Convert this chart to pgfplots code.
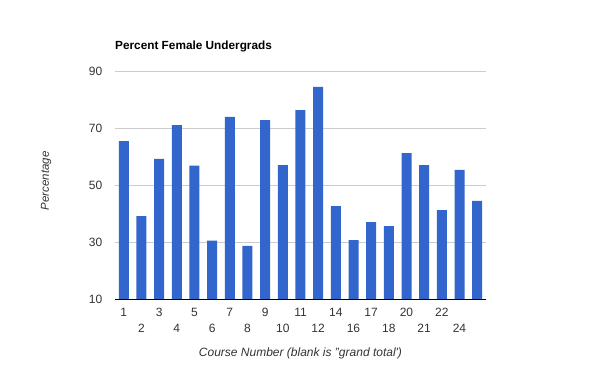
\documentclass[border=0pt]{standalone}
\usepackage{pgfplots}
\pgfplotsset{compat=1.18}
\usepackage{pgfplotstable}
\usepackage{fontspec}
\setmainfont{Liberation Sans}
\definecolor{barblue}{HTML}{3366CC}
\definecolor{gridgray}{HTML}{CCCCCC}
\definecolor{ticktext}{HTML}{333333}
\pgfplotstableread{
idx val
0 65.4
1 39.1
2 59.2
3 71.0
4 56.8
5 30.5
6 73.9
7 28.6
8 72.8
9 57.0
10 76.3
11 84.4
12 42.6
13 30.7
14 37.0
15 35.6
16 61.2
17 57.0
18 41.2
19 55.3
20 44.4
}\datatable
\begin{document}
\begin{tikzpicture}
\path[use as bounding box] (-115pt,-72pt) rectangle (485pt,299pt);
\begin{axis}[
  at={(0pt,0pt)}, anchor=south west,
  scale only axis, width=371pt, height=228pt,
  ybar, bar width=10pt,
  xmin=-0.5, xmax=20.5, ymin=10, ymax=90,
  ytick={10,30,50,70,90},
  ymajorgrids, grid style={gridgray, line width=0.8pt},
  axis x line*=bottom, axis y line*=left,
  y axis line style={draw=none},
  x axis line style={black, line width=0.9pt},
  major tick length=0pt,
  xtick={0,2,...,20},
  xticklabels={1,3,5,7,9,11,14,17,20,22,{}},
  extra x ticks={1,3,...,19},
  extra x tick labels={2,4,6,8,10,12,16,18,21,24},
  extra x tick style={xmajorgrids=false, major tick length=0pt,
    xticklabel style={yshift=-16pt}},
  xticklabel style={anchor=base, inner sep=0pt, yshift=-17.5pt, text=ticktext, font=\fontsize{12}{14}\selectfont},
  yticklabel style={anchor=east, inner sep=0pt, xshift=-12.5pt, text=ticktext, font=\fontsize{12}{14}\selectfont},
  /pgf/number format/assume math mode=true,
  title={Percent Female Undergrads},
  title style={at={(axis description cs:0,1)}, anchor=base west, yshift=16pt, inner sep=0pt,
    font=\fontsize{11.8}{13}\selectfont\bfseries},
  xlabel={Course Number (blank is "grand total\textquotesingle)},
  xlabel style={at={(axis description cs:0.5,0)}, anchor=base, yshift=-58pt, inner sep=0pt,
    text=ticktext, font=\fontsize{12}{14}\selectfont\itshape},
  ylabel={Percentage},
  ylabel style={at={(axis description cs:0,0.5)}, anchor=base, yshift=66pt, xshift=4pt, inner sep=0pt,
    text=ticktext, font=\fontsize{11.5}{13}\selectfont\itshape},
]
\addplot[fill=barblue, draw=none] table[x=idx, y=val] {\datatable};
\end{axis}
\end{tikzpicture}
\end{document}
